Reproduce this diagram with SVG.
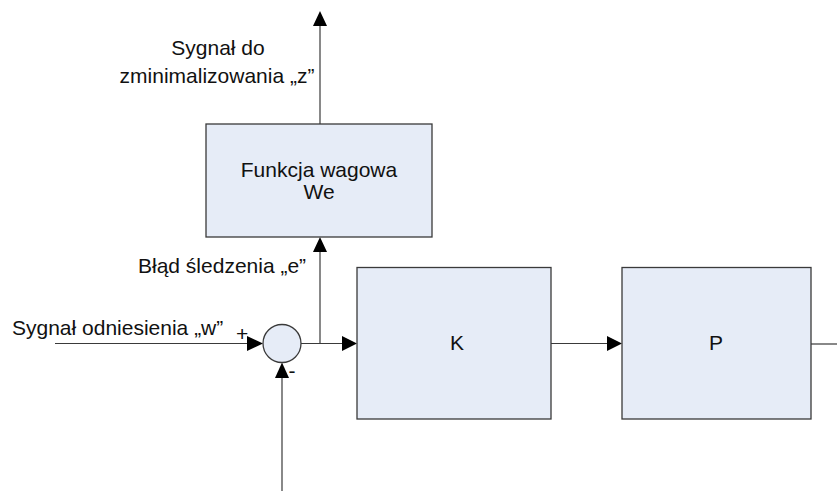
<svg xmlns="http://www.w3.org/2000/svg" width="837" height="491" viewBox="0 0 837 491">
  <style>
    .blk { fill: #e6ecf7; stroke: #3a3a3a; stroke-width: 1.3; }
    .wire { fill: none; stroke: #3a3a3a; stroke-width: 1.2; }
    .head { fill: #000; }
    text { font-family: "Liberation Sans", Arial, sans-serif; font-size: 21px; fill: #111; }
  </style>
  <rect width="837" height="491" fill="#fff"/>

  <!-- connectors -->
  <g id="connectors">
    <!-- reference input into the summing junction -->
    <line class="wire" x1="55" y1="343.5" x2="250" y2="343.5"/>
    <polygon class="head" points="263,343.5 247,336 247,351"/>
    <!-- error signal to controller K -->
    <line class="wire" x1="301" y1="343.5" x2="345" y2="343.5"/>
    <polygon class="head" points="357,343.5 342,336 342,351"/>
    <!-- branch up to the weighting function -->
    <line class="wire" x1="320" y1="343.5" x2="320" y2="250"/>
    <polygon class="head" points="320,237 313,252 327,252"/>
    <!-- performance output z -->
    <line class="wire" x1="320" y1="124" x2="320" y2="24"/>
    <polygon class="head" points="320,11 313,26 327,26"/>
    <!-- K to P -->
    <line class="wire" x1="551" y1="343.5" x2="610" y2="343.5"/>
    <polygon class="head" points="622,343.5 607,336 607,351"/>
    <!-- plant output -->
    <line class="wire" x1="811" y1="344" x2="837" y2="344"/>
    <!-- feedback into the summing junction -->
    <line class="wire" x1="282" y1="491" x2="282" y2="376"/>
    <polygon class="head" points="282,362.5 275,378 289,378"/>
  </g>

  <!-- summing junction -->
  <g id="sum">
    <circle class="blk" cx="282" cy="343.5" r="19"/>
    <text x="236" y="341">+</text>
    <text x="288.5" y="377.5">-</text>
  </g>

  <!-- weighting function -->
  <g id="we">
    <rect class="blk" x="206" y="124" width="226" height="113"/>
    <text x="319" y="177" text-anchor="middle">Funkcja wagowa</text>
    <text x="319" y="199" text-anchor="middle">We</text>
  </g>

  <!-- controller -->
  <g id="k">
    <rect class="blk" x="357" y="267.5" width="194" height="151.5"/>
    <text x="457" y="350" text-anchor="middle">K</text>
  </g>

  <!-- plant -->
  <g id="p">
    <rect class="blk" x="622" y="267.5" width="189" height="151.5"/>
    <text x="716" y="350" text-anchor="middle">P</text>
  </g>

  <!-- signal labels -->
  <g id="labels">
    <text x="218" y="55" text-anchor="middle">Sygnał do</text>
    <text x="217" y="83" text-anchor="middle">zminimalizowania „z”</text>
    <text x="138" y="273">Błąd śledzenia „e”</text>
    <text x="12" y="335">Sygnał odniesienia „w”</text>
  </g>
</svg>
